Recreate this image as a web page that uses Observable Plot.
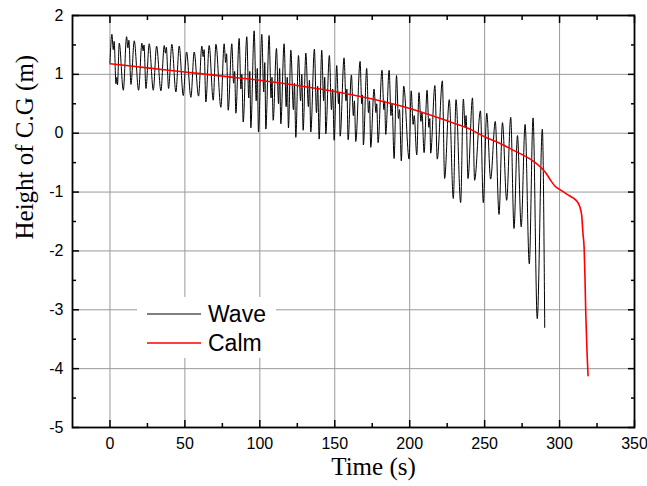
<!DOCTYPE html>
<html>
<head>
<meta charset="utf-8">
<script src="https://cdn.jsdelivr.net/npm/d3@7"></script>
<script src="https://cdn.jsdelivr.net/npm/@observablehq/plot@0.6"></script>
<style>
  html, body { margin: 0; padding: 0; background: #fff; }
  #wrap { position: relative; width: 647px; height: 486px; }
  #legend { position: absolute; left: 137px; top: 297px; width: 139px; height: 61px; background: #fff; }
</style>
</head>
<body>
<div id="wrap"></div>
<script>
// ---- data ----
const waveTime = [
  0, 1.3, 2.2, 2.8, 4.0, 4.6, 5.0, 6.2, 8.9, 11.1, 12.0, 12.6, 14.0, 16.2, 19.1, 21.3, 22.1, 22.7, 24.0, 26.2,
  28.9, 31.1, 34.0, 36.2, 37.0, 37.6, 39.1, 41.3, 44.0, 46.2, 48.9, 51.1, 54.0, 56.2, 59.1, 61.3, 62.2, 62.8, 64.0, 66.2,
  68.9, 70.7, 74.0, 76.2, 77.2, 77.8, 78.9, 81.3, 82.5, 83.2, 84.0, 86.2, 87.4, 88.0, 88.9, 91.3, 92.6, 93.3, 94.0, 96.2,
  97.6, 98.3, 99.1, 101.3, 102.6, 103.3, 104.0, 106.2, 107.5, 108.1, 108.9, 111.1, 112.5, 113.2, 114.0, 116.2, 117.6, 118.3, 119.1, 120.7,
  122.4, 123.1, 124.0, 125.8, 127.2, 128.0, 128.9, 130.7, 132.4, 133.1, 134.0, 136.4, 137.8, 138.6, 139.6, 141.3, 142.6, 143.3, 144.0, 146.4,
  147.8, 148.6, 149.6, 151.3, 152.5, 153.0, 153.6, 156.2, 157.5, 158.1, 158.9, 161.1, 162.4, 163.1, 164.0, 166.9, 168.0, 168.5, 169.1, 171.3,
  172.5, 173.2, 174.0, 176.2, 177.5, 178.0, 178.9, 181.5, 182.8, 183.3, 184.0, 186.3, 187.5, 188.2, 189.6, 191.2, 192.5, 193.2, 194.4, 196.0,
  199.6, 201.0, 202.3, 203.0, 204.7, 206.2, 207.5, 208.2, 209.6, 211.6, 212.8, 213.4, 214.0, 216.8, 218.4, 221.8, 223.3, 226.4, 229.1, 230.9,
  234.0, 235.8, 237.0, 237.6, 238.9, 241.9, 243.3, 247.2, 249.1, 251.4, 254.0, 257.1, 259.6, 261.9, 264.7, 267.4, 269.6, 271.9, 274.4, 277.0,
  279.8, 282.3, 285.1, 288.5, 290.1
];
const waveHeight = [
  1.20, 1.68, 1.42, 1.56, 0.84, 0.95, 0.82, 1.53, 0.73, 1.64, 1.45, 1.58, 0.83, 1.57, 0.73, 1.53, 1.40, 1.50, 0.76, 1.52,
  0.73, 1.48, 0.72, 1.49, 1.36, 1.46, 0.76, 1.51, 0.70, 1.48, 0.64, 1.38, 0.61, 1.38, 0.63, 1.48, 1.30, 1.42, 0.53, 1.49,
  0.56, 1.51, 0.44, 1.52, 1.20, 1.35, 0.39, 1.52, 0.85, 1.05, 0.34, 1.61, 0.75, 1.00, 0.19, 1.64, 0.60, 1.05, 0.09, 1.74,
  0.55, 1.10, 0.02, 1.68, 0.70, 1.20, 0.07, 1.66, 0.60, 0.95, 0.22, 1.44, 0.50, 1.10, 0.16, 1.52, 0.45, 0.95, 0.09, 1.41,
  0.40, 0.85, -0.07, 1.32, 0.55, 1.00, 0.05, 1.36, 0.45, 0.90, 0.02, 1.43, 0.35, 0.80, -0.10, 1.41, 0.55, 0.95, -0.01, 1.32,
  0.40, 0.75, -0.12, 1.15, 0.50, 0.70, -0.05, 1.28, 0.55, 0.75, -0.11, 0.99, 0.30, 0.55, -0.14, 1.22, 0.50, 0.65, -0.20, 1.10,
  0.35, 0.55, -0.24, 0.75, 0.35, 0.50, -0.16, 1.07, 0.40, 0.55, -0.02, 1.07, 0.30, 0.50, -0.43, 0.98, 0.25, 0.40, -0.47, 0.80,
  -0.44, 0.72, 0.15, 0.30, -0.37, 0.69, 0.20, 0.35, -0.33, 0.73, 0.10, 0.25, -0.34, 0.81, -0.44, 0.89, -0.77, 0.57, -1.11, 0.57,
  -1.18, 0.58, 0.10, 0.30, -0.77, 0.60, -0.80, 0.38, -1.18, 0.34, -0.78, 0.20, -1.38, 0.18, -1.14, 0.27, -1.62, -0.04, -1.59, 0.15,
  -2.22, 0.26, -3.15, 0.07, -3.30
];
const calmTime = [0, 25, 50, 75, 100, 125, 150, 175, 200, 225, 240, 250, 260, 270, 281, 287, 291, 294, 297, 301, 305, 309, 312, 313.5, 314.8, 315.6, 316.4, 317.0, 317.5, 318.3, 319.0];
const calmHeight = [1.18, 1.11, 1.04, 0.97, 0.90, 0.81, 0.71, 0.58, 0.42, 0.21, 0.07, -0.06, -0.17, -0.30, -0.45, -0.57, -0.68, -0.80, -0.90, -0.97, -1.04, -1.10, -1.17, -1.25, -1.40, -1.70, -1.95, -2.50, -3.07, -3.70, -4.12];

const xTicks = [0, 50, 100, 150, 200, 250, 300, 350];
const xMinor = [25, 75, 125, 175, 225, 275, 325];
const yTicks = [-5, -4, -3, -2, -1, 0, 1, 2];
const yMinor = [-4.5, -3.5, -2.5, -1.5, -0.5, 0.5, 1.5];
const seriesNames = ["Wave", "Calm"];
const seriesColors = ["#000000", "#ff0000"];
const xLabel = "Time (s)";
const yLabel = "Height of C.G (m)";

const waveIdx = d3.range(waveTime.length);
const calmIdx = d3.range(calmTime.length);
const sans = "'Liberation Sans', Arial, sans-serif";
const serif = "'Liberation Serif', 'Times New Roman', serif";

const chart = Plot.plot({
  width: 647,
  height: 486,
  marginTop: 15,
  marginBottom: 59,
  marginLeft: 72,
  marginRight: 13,
  style: {fontFamily: sans, fontSize: "16px", background: "white", overflow: "visible"},
  x: {domain: [-25, 350], label: null},
  y: {domain: [-5, 2], label: null},
  marks: [
    Plot.gridX(xTicks, {stroke: "#999", strokeOpacity: 1, strokeWidth: 1}),
    Plot.gridY(yTicks, {stroke: "#999", strokeOpacity: 1, strokeWidth: 1}),
    Plot.line(waveIdx, {x: i => waveTime[i], y: i => waveHeight[i], stroke: seriesColors[0], strokeWidth: 1, curve: "monotone-x"}),
    Plot.line(calmIdx, {x: i => calmTime[i], y: i => calmHeight[i], stroke: seriesColors[1], strokeWidth: 1.6, curve: "monotone-x"}),
    // inward ticks on all four sides
    Plot.axisX(xTicks, {anchor: "bottom", tickSize: -7, tickFormat: () => "", strokeWidth: 1.5, label: null}),
    Plot.axisX(xMinor, {anchor: "bottom", tickSize: -4, tickFormat: () => "", strokeWidth: 1.5, label: null}),
    Plot.axisX(xTicks, {anchor: "top", tickSize: -7, tickFormat: () => "", strokeWidth: 1.5, label: null}),
    Plot.axisX(xMinor, {anchor: "top", tickSize: -4, tickFormat: () => "", strokeWidth: 1.5, label: null}),
    Plot.axisY(yTicks, {anchor: "left", tickSize: -7, tickFormat: () => "", strokeWidth: 1.5, label: null}),
    Plot.axisY(yMinor, {anchor: "left", tickSize: -4, tickFormat: () => "", strokeWidth: 1.5, label: null}),
    Plot.axisY(yTicks, {anchor: "right", tickSize: -7, tickFormat: () => "", strokeWidth: 1.5, label: null}),
    Plot.axisY(yMinor, {anchor: "right", tickSize: -4, tickFormat: () => "", strokeWidth: 1.5, label: null}),
    // tick labels
    Plot.axisX(xTicks, {anchor: "bottom", tickSize: 0, tickPadding: 10, tickFormat: d => String(d), fontSize: 16, label: null}),
    Plot.axisY(yTicks, {anchor: "left", tickSize: 0, tickPadding: 9, tickFormat: d => String(d), fontSize: 16, label: null}),
    Plot.frame({stroke: "black", strokeWidth: 1.8}),
    // axis titles
    Plot.text([xLabel], {frameAnchor: "bottom", text: d => d, dx: 20, dy: 39, lineAnchor: "middle", fontSize: 25, fontFamily: serif, fill: "black"}),
    Plot.text([yLabel], {frameAnchor: "left", text: d => d, rotate: -90, dx: -48, dy: 18, lineAnchor: "middle", fontSize: 25, fontFamily: serif, fill: "black"})
  ]
});

const wrap = document.getElementById("wrap");
wrap.appendChild(chart);

// legend (inside the plot area, white box over the grid)
const legend = d3.select(wrap).append("div").attr("id", "legend");
const lsvg = legend.append("svg").attr("width", 139).attr("height", 61);
const rowsY = [17, 46];
seriesNames.forEach((name, k) => {
  lsvg.append("line").attr("x1", 10).attr("x2", 64).attr("y1", rowsY[k]).attr("y2", rowsY[k])
    .attr("stroke", seriesColors[k]).attr("stroke-width", k === 0 ? 1 : 1.6);
  lsvg.append("text").attr("x", 71).attr("y", rowsY[k]).attr("dominant-baseline", "central")
    .attr("font-family", sans).attr("font-size", 23).attr("fill", "black").text(name);
});
</script>
</body>
</html>
